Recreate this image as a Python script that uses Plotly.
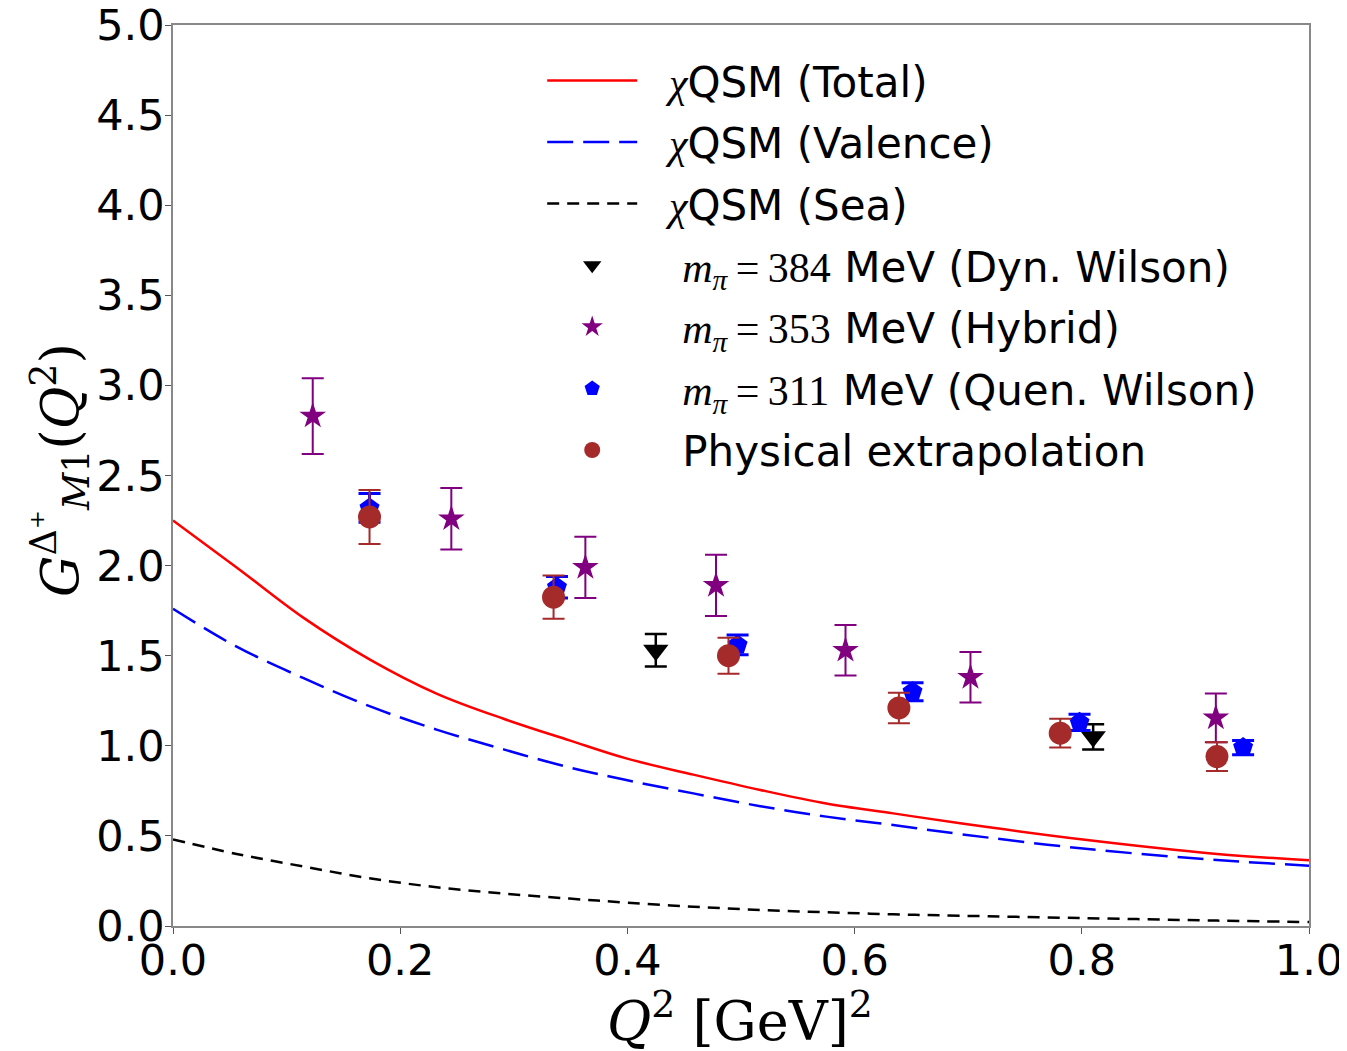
import plotly.graph_objects as go

# Model curves
q2_curve = [0.0, 0.056, 0.115, 0.173, 0.232, 0.291, 0.349, 0.399, 0.458, 0.517, 0.575, 0.634, 0.693, 0.801, 0.919, 1.0]
total = [2.25, 1.99, 1.71, 1.48, 1.29, 1.15, 1.03, 0.93, 0.84, 0.755, 0.68, 0.625, 0.57, 0.48, 0.40, 0.365]
valence = [1.76, 1.55, 1.375, 1.22, 1.09, 0.98, 0.88, 0.81, 0.736, 0.665, 0.607, 0.56, 0.51, 0.43, 0.366, 0.335]
sea = [0.48, 0.40, 0.33, 0.265, 0.215, 0.18, 0.152, 0.13, 0.107, 0.089, 0.076, 0.065, 0.057, 0.044, 0.03, 0.022]

# Lattice data
dyn_x = [0.425, 0.81]
dyn_y = [1.53, 1.05]
dyn_err = [0.09, 0.07]

hyb_x = [0.123, 0.245, 0.363, 0.478, 0.592, 0.702, 0.918]
hyb_y = [2.83, 2.26, 1.99, 1.89, 1.53, 1.38, 1.155]
hyb_err = [0.21, 0.17, 0.17, 0.17, 0.14, 0.14, 0.135]

quen_x = [0.173, 0.338, 0.497, 0.651, 0.798, 0.942]
quen_y = [2.32, 1.88, 1.56, 1.30, 1.13, 0.99]
quen_err = [0.08, 0.06, 0.055, 0.05, 0.045, 0.04]

phys_x = [0.173, 0.335, 0.489, 0.639, 0.781, 0.919]
phys_y = [2.27, 1.825, 1.50, 1.21, 1.07, 0.94]
phys_err = [0.15, 0.12, 0.10, 0.085, 0.08, 0.08]

NB = "\u00a0"
TH = "\u2009"
SERIF = "<span style='font-family:Liberation Serif'>"

def mpi(val):
    return (NB * 3 + SERIF + "<i>m</i><sub><i>π</i></sub>" + TH + "=" + TH + val + "</span>")

fig = go.Figure()
fig.add_trace(go.Scatter(x=q2_curve, y=total, mode="lines", line=dict(color="red", width=2.5, shape="spline"),
                         name=NB * 2 + SERIF + "<i>χ</i></span>QSM (Total)", legendgroup="a"))
fig.add_trace(go.Scatter(x=q2_curve, y=valence, mode="lines", line=dict(color="blue", width=2.5, dash="26px,10px", shape="spline"),
                         name=NB * 2 + SERIF + "<i>χ</i></span>QSM (Valence)", legendgroup="b"))
fig.add_trace(go.Scatter(x=q2_curve, y=sea, mode="lines", line=dict(color="black", width=2.5, dash="12px,8px", shape="spline"),
                         name=NB * 2 + SERIF + "<i>χ</i></span>QSM (Sea)", legendgroup="c"))

def pts(x, y, e, color, symbol, size, name, grp, thick=2):
    return go.Scatter(x=x, y=y, mode="markers", name=name, legendgroup=grp,
                      marker=dict(color=color, symbol=symbol, size=size, line=dict(width=0)),
                      error_y=dict(type="data", array=e, visible=True, color=color, thickness=thick, width=11))

fig.add_trace(pts(dyn_x, dyn_y, dyn_err, "black", "triangle-down", 22,
                  mpi("384") + " MeV (Dyn. Wilson)", "d", 2.5))
fig.add_trace(pts(hyb_x, hyb_y, hyb_err, "#800080", "star", 20,
                  mpi("353") + " MeV (Hybrid)", "e"))
fig.add_trace(pts(quen_x, quen_y, quen_err, "blue", "pentagon", 21,
                  mpi("311") + " MeV (Quen. Wilson)", "f", 3))
fig.add_trace(pts(phys_x, phys_y, phys_err, "#a52a2a", "circle", 23,
                  NB * 3 + "Physical extrapolation", "g"))

axis_common = dict(showgrid=False, zeroline=False, showline=True, linecolor="#888888", linewidth=1.5,
                   mirror=True, ticks="outside", ticklen=6, tickcolor="#555555", automargin=False,
                   ticklabeloverflow="allow",
                   tickfont=dict(family="DejaVu Sans", size=43, color="black"))

fig.update_layout(
    width=1347, height=1051,
    margin=dict(l=165, r=46, t=17, b=133),
    paper_bgcolor="white", plot_bgcolor="white",
    font=dict(family="DejaVu Sans", color="black"),
    xaxis=dict(range=[0, 1.0], tickvals=[0, 0.2, 0.4, 0.6, 0.8, 1.0], tickformat=".1f",
               ticklabelstandoff=-10, **axis_common),
    yaxis=dict(range=[0, 5.0], tickvals=[0, 0.5, 1, 1.5, 2, 2.5, 3, 3.5, 4, 4.5, 5], tickformat=".1f",
               ticklabelstandoff=-8, **axis_common),
    legend=dict(x=0.325, y=0.976, xanchor="left", yanchor="top", bgcolor="rgba(0,0,0,0)",
                font=dict(family="DejaVu Sans", size=42), itemwidth=90, tracegroupgap=4,
                traceorder="grouped"),
    showlegend=True,
    annotations=[
        dict(text="<i>Q</i><sup>2</sup> [GeV]<sup>2</sup>", xref="paper", yref="paper", x=0.499, y=-0.101,
             xanchor="center", yanchor="middle", showarrow=False, font=dict(family="DejaVu Serif", size=54)),
        dict(text="<i>G</i><sup>Δ⁺</sup><sub><i>M</i>1</sub>(<i>Q</i><sup>2</sup>)", xref="paper", yref="paper",
             x=-0.0995, y=0.506, xanchor="center", yanchor="middle", textangle=-90, showarrow=False,
             font=dict(family="DejaVu Serif", size=52)),
    ],
)

fig.write_html("out.html")
